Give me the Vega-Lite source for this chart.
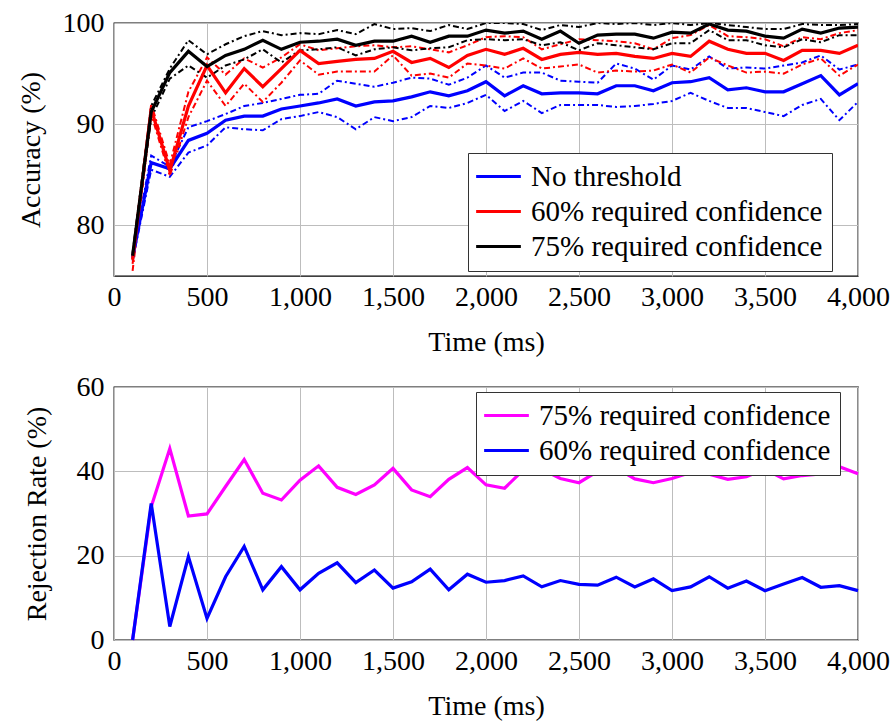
{
"$schema": "https://vega.github.io/schema/vega-lite/v6.json",
"background": "white",
"padding": {"left": 16, "top": 8, "right": 4, "bottom": 2},
"bounds": "flush",
"spacing": 111,
"config": {
  "font": "Liberation Serif",
  "style": {"guide-label": {"font": "Liberation Serif"}, "guide-title": {"font": "Liberation Serif"}},
  "view": {"stroke": "#000", "strokeWidth": 1.3},
  "axis": {"labelFont": "Liberation Serif", "titleFont": "Liberation Serif", "labelFontSize": 28, "titleFontSize": 28, "titleFontWeight": "normal", "labelColor": "#000", "titleColor": "#000", "gridColor": "#bdbdbd", "gridWidth": 1, "gridOpacity": 1, "domain": false, "ticks": false},
  "axisX": {"labelPadding": 7, "titlePadding": 17, "labelFlush": false},
  "axisY": {"labelPadding": 10},
  "legend": {"labelFont": "Liberation Serif", "labelFontSize": 29, "labelColor": "#000", "symbolType": "M-2,0L2,0", "symbolSize": 500, "symbolStrokeWidth": 3.2, "symbolDash": [], "symbolFillColor": "transparent", "strokeColor": "#333", "fillColor": "#fff", "padding": 9, "symbolOffset": 7, "labelOffset": 18, "rowPadding": 5, "labelLimit": 0, "orient": "none", "direction": "vertical", "title": null}
},
"resolve": {"scale": {"color": "independent", "x": "independent", "y": "independent"}, "legend": {"color": "independent"}},
"datasets": {
"acc": [
{"t":100,"s":"No threshold","k":"mean","v":76.8},{"t":200,"s":"No threshold","k":"mean","v":86.2},{"t":300,"s":"No threshold","k":"mean","v":85.6},{"t":400,"s":"No threshold","k":"mean","v":88.4},{"t":500,"s":"No threshold","k":"mean","v":89.1},{"t":600,"s":"No threshold","k":"mean","v":90.4},{"t":700,"s":"No threshold","k":"mean","v":90.8},{"t":800,"s":"No threshold","k":"mean","v":90.8},{"t":900,"s":"No threshold","k":"mean","v":91.5},{"t":1000,"s":"No threshold","k":"mean","v":91.8},
{"t":1100,"s":"No threshold","k":"mean","v":92.1},{"t":1200,"s":"No threshold","k":"mean","v":92.5},{"t":1300,"s":"No threshold","k":"mean","v":91.8},{"t":1400,"s":"No threshold","k":"mean","v":92.2},{"t":1500,"s":"No threshold","k":"mean","v":92.3},{"t":1600,"s":"No threshold","k":"mean","v":92.7},{"t":1700,"s":"No threshold","k":"mean","v":93.2},{"t":1800,"s":"No threshold","k":"mean","v":92.8},{"t":1900,"s":"No threshold","k":"mean","v":93.3},{"t":2000,"s":"No threshold","k":"mean","v":94.2},
{"t":2100,"s":"No threshold","k":"mean","v":92.8},{"t":2200,"s":"No threshold","k":"mean","v":93.8},{"t":2300,"s":"No threshold","k":"mean","v":93.0},{"t":2400,"s":"No threshold","k":"mean","v":93.1},{"t":2500,"s":"No threshold","k":"mean","v":93.1},{"t":2600,"s":"No threshold","k":"mean","v":93.0},{"t":2700,"s":"No threshold","k":"mean","v":93.8},{"t":2800,"s":"No threshold","k":"mean","v":93.8},{"t":2900,"s":"No threshold","k":"mean","v":93.3},{"t":3000,"s":"No threshold","k":"mean","v":94.1},
{"t":3100,"s":"No threshold","k":"mean","v":94.2},{"t":3200,"s":"No threshold","k":"mean","v":94.6},{"t":3300,"s":"No threshold","k":"mean","v":93.4},{"t":3400,"s":"No threshold","k":"mean","v":93.6},{"t":3500,"s":"No threshold","k":"mean","v":93.2},{"t":3600,"s":"No threshold","k":"mean","v":93.2},{"t":3700,"s":"No threshold","k":"mean","v":94.0},{"t":3800,"s":"No threshold","k":"mean","v":94.8},{"t":3900,"s":"No threshold","k":"mean","v":92.9},{"t":4000,"s":"No threshold","k":"mean","v":94.0},
{"t":100,"s":"No threshold","k":"upper","v":77.2},{"t":200,"s":"No threshold","k":"upper","v":86.9},{"t":300,"s":"No threshold","k":"upper","v":85.8},{"t":400,"s":"No threshold","k":"upper","v":89.7},{"t":500,"s":"No threshold","k":"upper","v":90.3},{"t":600,"s":"No threshold","k":"upper","v":91.0},{"t":700,"s":"No threshold","k":"upper","v":91.8},{"t":800,"s":"No threshold","k":"upper","v":92.1},{"t":900,"s":"No threshold","k":"upper","v":92.5},{"t":1000,"s":"No threshold","k":"upper","v":92.9},
{"t":1100,"s":"No threshold","k":"upper","v":93.0},{"t":1200,"s":"No threshold","k":"upper","v":94.3},{"t":1300,"s":"No threshold","k":"upper","v":94.0},{"t":1400,"s":"No threshold","k":"upper","v":93.7},{"t":1500,"s":"No threshold","k":"upper","v":94.1},{"t":1600,"s":"No threshold","k":"upper","v":94.6},{"t":1700,"s":"No threshold","k":"upper","v":94.5},{"t":1800,"s":"No threshold","k":"upper","v":93.9},{"t":1900,"s":"No threshold","k":"upper","v":94.6},{"t":2000,"s":"No threshold","k":"upper","v":95.8},
{"t":2100,"s":"No threshold","k":"upper","v":94.6},{"t":2200,"s":"No threshold","k":"upper","v":95.1},{"t":2300,"s":"No threshold","k":"upper","v":95.1},{"t":2400,"s":"No threshold","k":"upper","v":94.3},{"t":2500,"s":"No threshold","k":"upper","v":94.2},{"t":2600,"s":"No threshold","k":"upper","v":94.1},{"t":2700,"s":"No threshold","k":"upper","v":96.0},{"t":2800,"s":"No threshold","k":"upper","v":95.5},{"t":2900,"s":"No threshold","k":"upper","v":94.4},{"t":3000,"s":"No threshold","k":"upper","v":95.8},
{"t":3100,"s":"No threshold","k":"upper","v":95.4},{"t":3200,"s":"No threshold","k":"upper","v":96.7},{"t":3300,"s":"No threshold","k":"upper","v":95.5},{"t":3400,"s":"No threshold","k":"upper","v":95.6},{"t":3500,"s":"No threshold","k":"upper","v":95.5},{"t":3600,"s":"No threshold","k":"upper","v":95.8},{"t":3700,"s":"No threshold","k":"upper","v":96.1},{"t":3800,"s":"No threshold","k":"upper","v":96.8},{"t":3900,"s":"No threshold","k":"upper","v":95.4},{"t":4000,"s":"No threshold","k":"upper","v":95.9},
{"t":100,"s":"No threshold","k":"lower","v":76.5},{"t":200,"s":"No threshold","k":"lower","v":85.5},{"t":300,"s":"No threshold","k":"lower","v":84.8},{"t":400,"s":"No threshold","k":"lower","v":87.2},{"t":500,"s":"No threshold","k":"lower","v":87.9},{"t":600,"s":"No threshold","k":"lower","v":89.7},{"t":700,"s":"No threshold","k":"lower","v":89.5},{"t":800,"s":"No threshold","k":"lower","v":89.4},{"t":900,"s":"No threshold","k":"lower","v":90.5},{"t":1000,"s":"No threshold","k":"lower","v":90.8},
{"t":1100,"s":"No threshold","k":"lower","v":91.2},{"t":1200,"s":"No threshold","k":"lower","v":90.7},{"t":1300,"s":"No threshold","k":"lower","v":89.5},{"t":1400,"s":"No threshold","k":"lower","v":90.7},{"t":1500,"s":"No threshold","k":"lower","v":90.3},{"t":1600,"s":"No threshold","k":"lower","v":90.7},{"t":1700,"s":"No threshold","k":"lower","v":91.8},{"t":1800,"s":"No threshold","k":"lower","v":91.6},{"t":1900,"s":"No threshold","k":"lower","v":92.1},{"t":2000,"s":"No threshold","k":"lower","v":92.9},
{"t":2100,"s":"No threshold","k":"lower","v":91.3},{"t":2200,"s":"No threshold","k":"lower","v":92.3},{"t":2300,"s":"No threshold","k":"lower","v":91.1},{"t":2400,"s":"No threshold","k":"lower","v":91.9},{"t":2500,"s":"No threshold","k":"lower","v":91.9},{"t":2600,"s":"No threshold","k":"lower","v":91.9},{"t":2700,"s":"No threshold","k":"lower","v":91.7},{"t":2800,"s":"No threshold","k":"lower","v":91.8},{"t":2900,"s":"No threshold","k":"lower","v":92.0},{"t":3000,"s":"No threshold","k":"lower","v":92.3},
{"t":3100,"s":"No threshold","k":"lower","v":93.1},{"t":3200,"s":"No threshold","k":"lower","v":92.3},{"t":3300,"s":"No threshold","k":"lower","v":91.6},{"t":3400,"s":"No threshold","k":"lower","v":91.6},{"t":3500,"s":"No threshold","k":"lower","v":91.2},{"t":3600,"s":"No threshold","k":"lower","v":90.8},{"t":3700,"s":"No threshold","k":"lower","v":91.9},{"t":3800,"s":"No threshold","k":"lower","v":92.5},{"t":3900,"s":"No threshold","k":"lower","v":90.4},{"t":4000,"s":"No threshold","k":"lower","v":92.2},
{"t":100,"s":"60% required confidence","k":"mean","v":76.6},{"t":200,"s":"60% required confidence","k":"mean","v":91.5},{"t":300,"s":"60% required confidence","k":"mean","v":85.4},{"t":400,"s":"60% required confidence","k":"mean","v":91.8},{"t":500,"s":"60% required confidence","k":"mean","v":95.8},{"t":600,"s":"60% required confidence","k":"mean","v":93.1},{"t":700,"s":"60% required confidence","k":"mean","v":95.5},{"t":800,"s":"60% required confidence","k":"mean","v":93.7},{"t":900,"s":"60% required confidence","k":"mean","v":95.5},{"t":1000,"s":"60% required confidence","k":"mean","v":97.3},
{"t":1100,"s":"60% required confidence","k":"mean","v":96.0},{"t":1200,"s":"60% required confidence","k":"mean","v":96.2},{"t":1300,"s":"60% required confidence","k":"mean","v":96.4},{"t":1400,"s":"60% required confidence","k":"mean","v":96.5},{"t":1500,"s":"60% required confidence","k":"mean","v":97.2},{"t":1600,"s":"60% required confidence","k":"mean","v":96.1},{"t":1700,"s":"60% required confidence","k":"mean","v":96.5},{"t":1800,"s":"60% required confidence","k":"mean","v":95.6},{"t":1900,"s":"60% required confidence","k":"mean","v":96.8},{"t":2000,"s":"60% required confidence","k":"mean","v":97.4},
{"t":2100,"s":"60% required confidence","k":"mean","v":96.9},{"t":2200,"s":"60% required confidence","k":"mean","v":97.5},{"t":2300,"s":"60% required confidence","k":"mean","v":96.4},{"t":2400,"s":"60% required confidence","k":"mean","v":96.9},{"t":2500,"s":"60% required confidence","k":"mean","v":97.1},{"t":2600,"s":"60% required confidence","k":"mean","v":96.9},{"t":2700,"s":"60% required confidence","k":"mean","v":97.0},{"t":2800,"s":"60% required confidence","k":"mean","v":96.7},{"t":2900,"s":"60% required confidence","k":"mean","v":96.5},{"t":3000,"s":"60% required confidence","k":"mean","v":97.0},
{"t":3100,"s":"60% required confidence","k":"mean","v":96.7},{"t":3200,"s":"60% required confidence","k":"mean","v":98.2},{"t":3300,"s":"60% required confidence","k":"mean","v":97.4},{"t":3400,"s":"60% required confidence","k":"mean","v":97.0},{"t":3500,"s":"60% required confidence","k":"mean","v":97.0},{"t":3600,"s":"60% required confidence","k":"mean","v":96.3},{"t":3700,"s":"60% required confidence","k":"mean","v":97.3},{"t":3800,"s":"60% required confidence","k":"mean","v":97.3},{"t":3900,"s":"60% required confidence","k":"mean","v":97.0},{"t":4000,"s":"60% required confidence","k":"mean","v":97.8},
{"t":100,"s":"60% required confidence","k":"upper","v":76.2},{"t":200,"s":"60% required confidence","k":"upper","v":92.0},{"t":300,"s":"60% required confidence","k":"upper","v":86.0},{"t":400,"s":"60% required confidence","k":"upper","v":93.2},{"t":500,"s":"60% required confidence","k":"upper","v":96.6},{"t":600,"s":"60% required confidence","k":"upper","v":94.9},{"t":700,"s":"60% required confidence","k":"upper","v":96.5},{"t":800,"s":"60% required confidence","k":"upper","v":95.6},{"t":900,"s":"60% required confidence","k":"upper","v":96.6},{"t":1000,"s":"60% required confidence","k":"upper","v":97.9},
{"t":1100,"s":"60% required confidence","k":"upper","v":97.3},{"t":1200,"s":"60% required confidence","k":"upper","v":97.5},{"t":1300,"s":"60% required confidence","k":"upper","v":97.7},{"t":1400,"s":"60% required confidence","k":"upper","v":97.8},{"t":1500,"s":"60% required confidence","k":"upper","v":97.6},{"t":1600,"s":"60% required confidence","k":"upper","v":97.7},{"t":1700,"s":"60% required confidence","k":"upper","v":97.4},{"t":1800,"s":"60% required confidence","k":"upper","v":97.1},{"t":1900,"s":"60% required confidence","k":"upper","v":97.8},{"t":2000,"s":"60% required confidence","k":"upper","v":98.6},
{"t":2100,"s":"60% required confidence","k":"upper","v":98.7},{"t":2200,"s":"60% required confidence","k":"upper","v":98.6},{"t":2300,"s":"60% required confidence","k":"upper","v":97.4},{"t":2400,"s":"60% required confidence","k":"upper","v":97.9},{"t":2500,"s":"60% required confidence","k":"upper","v":98.4},{"t":2600,"s":"60% required confidence","k":"upper","v":98.3},{"t":2700,"s":"60% required confidence","k":"upper","v":98.2},{"t":2800,"s":"60% required confidence","k":"upper","v":98.0},{"t":2900,"s":"60% required confidence","k":"upper","v":97.4},{"t":3000,"s":"60% required confidence","k":"upper","v":98.5},
{"t":3100,"s":"60% required confidence","k":"upper","v":98.8},{"t":3200,"s":"60% required confidence","k":"upper","v":99.8},{"t":3300,"s":"60% required confidence","k":"upper","v":98.7},{"t":3400,"s":"60% required confidence","k":"upper","v":98.6},{"t":3500,"s":"60% required confidence","k":"upper","v":98.4},{"t":3600,"s":"60% required confidence","k":"upper","v":97.7},{"t":3700,"s":"60% required confidence","k":"upper","v":98.6},{"t":3800,"s":"60% required confidence","k":"upper","v":98.4},{"t":3900,"s":"60% required confidence","k":"upper","v":99.0},{"t":4000,"s":"60% required confidence","k":"upper","v":99.3},
{"t":100,"s":"60% required confidence","k":"lower","v":75.5},{"t":200,"s":"60% required confidence","k":"lower","v":91.0},{"t":300,"s":"60% required confidence","k":"lower","v":84.9},{"t":400,"s":"60% required confidence","k":"lower","v":90.7},{"t":500,"s":"60% required confidence","k":"lower","v":94.3},{"t":600,"s":"60% required confidence","k":"lower","v":91.8},{"t":700,"s":"60% required confidence","k":"lower","v":94.0},{"t":800,"s":"60% required confidence","k":"lower","v":92.2},{"t":900,"s":"60% required confidence","k":"lower","v":94.1},{"t":1000,"s":"60% required confidence","k":"lower","v":96.3},
{"t":1100,"s":"60% required confidence","k":"lower","v":94.9},{"t":1200,"s":"60% required confidence","k":"lower","v":95.2},{"t":1300,"s":"60% required confidence","k":"lower","v":95.2},{"t":1400,"s":"60% required confidence","k":"lower","v":95.2},{"t":1500,"s":"60% required confidence","k":"lower","v":96.8},{"t":1600,"s":"60% required confidence","k":"lower","v":94.8},{"t":1700,"s":"60% required confidence","k":"lower","v":95.0},{"t":1800,"s":"60% required confidence","k":"lower","v":94.6},{"t":1900,"s":"60% required confidence","k":"lower","v":96.0},{"t":2000,"s":"60% required confidence","k":"lower","v":95.8},
{"t":2100,"s":"60% required confidence","k":"lower","v":95.5},{"t":2200,"s":"60% required confidence","k":"lower","v":96.5},{"t":2300,"s":"60% required confidence","k":"lower","v":95.5},{"t":2400,"s":"60% required confidence","k":"lower","v":95.7},{"t":2500,"s":"60% required confidence","k":"lower","v":95.9},{"t":2600,"s":"60% required confidence","k":"lower","v":95.1},{"t":2700,"s":"60% required confidence","k":"lower","v":95.3},{"t":2800,"s":"60% required confidence","k":"lower","v":95.2},{"t":2900,"s":"60% required confidence","k":"lower","v":95.3},{"t":3000,"s":"60% required confidence","k":"lower","v":95.9},
{"t":3100,"s":"60% required confidence","k":"lower","v":95.1},{"t":3200,"s":"60% required confidence","k":"lower","v":96.6},{"t":3300,"s":"60% required confidence","k":"lower","v":95.8},{"t":3400,"s":"60% required confidence","k":"lower","v":95.1},{"t":3500,"s":"60% required confidence","k":"lower","v":95.2},{"t":3600,"s":"60% required confidence","k":"lower","v":95.0},{"t":3700,"s":"60% required confidence","k":"lower","v":95.9},{"t":3800,"s":"60% required confidence","k":"lower","v":96.5},{"t":3900,"s":"60% required confidence","k":"lower","v":94.8},{"t":4000,"s":"60% required confidence","k":"lower","v":95.9},
{"t":100,"s":"75% required confidence","k":"mean","v":77.0},{"t":200,"s":"75% required confidence","k":"mean","v":91.2},{"t":300,"s":"75% required confidence","k":"mean","v":95.1},{"t":400,"s":"75% required confidence","k":"mean","v":97.2},{"t":500,"s":"75% required confidence","k":"mean","v":95.7},{"t":600,"s":"75% required confidence","k":"mean","v":96.8},{"t":700,"s":"75% required confidence","k":"mean","v":97.4},{"t":800,"s":"75% required confidence","k":"mean","v":98.3},{"t":900,"s":"75% required confidence","k":"mean","v":97.4},{"t":1000,"s":"75% required confidence","k":"mean","v":98.1},
{"t":1100,"s":"75% required confidence","k":"mean","v":98.2},{"t":1200,"s":"75% required confidence","k":"mean","v":98.4},{"t":1300,"s":"75% required confidence","k":"mean","v":97.8},{"t":1400,"s":"75% required confidence","k":"mean","v":98.2},{"t":1500,"s":"75% required confidence","k":"mean","v":98.2},{"t":1600,"s":"75% required confidence","k":"mean","v":98.7},{"t":1700,"s":"75% required confidence","k":"mean","v":98.1},{"t":1800,"s":"75% required confidence","k":"mean","v":98.7},{"t":1900,"s":"75% required confidence","k":"mean","v":98.7},{"t":2000,"s":"75% required confidence","k":"mean","v":99.3},
{"t":2100,"s":"75% required confidence","k":"mean","v":99.0},{"t":2200,"s":"75% required confidence","k":"mean","v":99.2},{"t":2300,"s":"75% required confidence","k":"mean","v":98.4},{"t":2400,"s":"75% required confidence","k":"mean","v":99.2},{"t":2500,"s":"75% required confidence","k":"mean","v":98.0},{"t":2600,"s":"75% required confidence","k":"mean","v":98.8},{"t":2700,"s":"75% required confidence","k":"mean","v":98.9},{"t":2800,"s":"75% required confidence","k":"mean","v":98.9},{"t":2900,"s":"75% required confidence","k":"mean","v":98.5},{"t":3000,"s":"75% required confidence","k":"mean","v":99.1},
{"t":3100,"s":"75% required confidence","k":"mean","v":99.0},{"t":3200,"s":"75% required confidence","k":"mean","v":99.9},{"t":3300,"s":"75% required confidence","k":"mean","v":99.3},{"t":3400,"s":"75% required confidence","k":"mean","v":99.2},{"t":3500,"s":"75% required confidence","k":"mean","v":98.7},{"t":3600,"s":"75% required confidence","k":"mean","v":98.5},{"t":3700,"s":"75% required confidence","k":"mean","v":99.4},{"t":3800,"s":"75% required confidence","k":"mean","v":99.0},{"t":3900,"s":"75% required confidence","k":"mean","v":99.5},{"t":4000,"s":"75% required confidence","k":"mean","v":99.6},
{"t":100,"s":"75% required confidence","k":"upper","v":77.3},{"t":200,"s":"75% required confidence","k":"upper","v":91.8},{"t":300,"s":"75% required confidence","k":"upper","v":95.5},{"t":400,"s":"75% required confidence","k":"upper","v":98.3},{"t":500,"s":"75% required confidence","k":"upper","v":96.9},{"t":600,"s":"75% required confidence","k":"upper","v":97.9},{"t":700,"s":"75% required confidence","k":"upper","v":98.7},{"t":800,"s":"75% required confidence","k":"upper","v":99.2},{"t":900,"s":"75% required confidence","k":"upper","v":98.8},{"t":1000,"s":"75% required confidence","k":"upper","v":99.0},
{"t":1100,"s":"75% required confidence","k":"upper","v":98.9},{"t":1200,"s":"75% required confidence","k":"upper","v":99.3},{"t":1300,"s":"75% required confidence","k":"upper","v":98.9},{"t":1400,"s":"75% required confidence","k":"upper","v":99.9},{"t":1500,"s":"75% required confidence","k":"upper","v":99.4},{"t":1600,"s":"75% required confidence","k":"upper","v":99.5},{"t":1700,"s":"75% required confidence","k":"upper","v":99.2},{"t":1800,"s":"75% required confidence","k":"upper","v":99.8},{"t":1900,"s":"75% required confidence","k":"upper","v":99.4},{"t":2000,"s":"75% required confidence","k":"upper","v":100.0},
{"t":2100,"s":"75% required confidence","k":"upper","v":100.0},{"t":2200,"s":"75% required confidence","k":"upper","v":99.9},{"t":2300,"s":"75% required confidence","k":"upper","v":99.3},{"t":2400,"s":"75% required confidence","k":"upper","v":99.8},{"t":2500,"s":"75% required confidence","k":"upper","v":99.6},{"t":2600,"s":"75% required confidence","k":"upper","v":100.0},{"t":2700,"s":"75% required confidence","k":"upper","v":99.9},{"t":2800,"s":"75% required confidence","k":"upper","v":100.0},{"t":2900,"s":"75% required confidence","k":"upper","v":99.8},{"t":3000,"s":"75% required confidence","k":"upper","v":100.0},
{"t":3100,"s":"75% required confidence","k":"upper","v":99.8},{"t":3200,"s":"75% required confidence","k":"upper","v":100.0},{"t":3300,"s":"75% required confidence","k":"upper","v":99.8},{"t":3400,"s":"75% required confidence","k":"upper","v":99.6},{"t":3500,"s":"75% required confidence","k":"upper","v":99.4},{"t":3600,"s":"75% required confidence","k":"upper","v":99.4},{"t":3700,"s":"75% required confidence","k":"upper","v":99.9},{"t":3800,"s":"75% required confidence","k":"upper","v":99.8},{"t":3900,"s":"75% required confidence","k":"upper","v":99.8},{"t":4000,"s":"75% required confidence","k":"upper","v":99.9},
{"t":100,"s":"75% required confidence","k":"lower","v":76.7},{"t":200,"s":"75% required confidence","k":"lower","v":90.6},{"t":300,"s":"75% required confidence","k":"lower","v":94.5},{"t":400,"s":"75% required confidence","k":"lower","v":95.8},{"t":500,"s":"75% required confidence","k":"lower","v":94.6},{"t":600,"s":"75% required confidence","k":"lower","v":95.8},{"t":700,"s":"75% required confidence","k":"lower","v":96.4},{"t":800,"s":"75% required confidence","k":"lower","v":97.4},{"t":900,"s":"75% required confidence","k":"lower","v":96.1},{"t":1000,"s":"75% required confidence","k":"lower","v":97.3},
{"t":1100,"s":"75% required confidence","k":"lower","v":97.4},{"t":1200,"s":"75% required confidence","k":"lower","v":97.6},{"t":1300,"s":"75% required confidence","k":"lower","v":96.8},{"t":1400,"s":"75% required confidence","k":"lower","v":97.4},{"t":1500,"s":"75% required confidence","k":"lower","v":97.6},{"t":1600,"s":"75% required confidence","k":"lower","v":97.3},{"t":1700,"s":"75% required confidence","k":"lower","v":97.5},{"t":1800,"s":"75% required confidence","k":"lower","v":97.6},{"t":1900,"s":"75% required confidence","k":"lower","v":98.3},{"t":2000,"s":"75% required confidence","k":"lower","v":98.4},
{"t":2100,"s":"75% required confidence","k":"lower","v":98.3},{"t":2200,"s":"75% required confidence","k":"lower","v":98.4},{"t":2300,"s":"75% required confidence","k":"lower","v":97.8},{"t":2400,"s":"75% required confidence","k":"lower","v":98.1},{"t":2500,"s":"75% required confidence","k":"lower","v":97.3},{"t":2600,"s":"75% required confidence","k":"lower","v":98.0},{"t":2700,"s":"75% required confidence","k":"lower","v":97.8},{"t":2800,"s":"75% required confidence","k":"lower","v":97.6},{"t":2900,"s":"75% required confidence","k":"lower","v":97.4},{"t":3000,"s":"75% required confidence","k":"lower","v":98.0},
{"t":3100,"s":"75% required confidence","k":"lower","v":98.0},{"t":3200,"s":"75% required confidence","k":"lower","v":99.3},{"t":3300,"s":"75% required confidence","k":"lower","v":98.3},{"t":3400,"s":"75% required confidence","k":"lower","v":98.3},{"t":3500,"s":"75% required confidence","k":"lower","v":97.8},{"t":3600,"s":"75% required confidence","k":"lower","v":97.6},{"t":3700,"s":"75% required confidence","k":"lower","v":98.4},{"t":3800,"s":"75% required confidence","k":"lower","v":98.1},{"t":3900,"s":"75% required confidence","k":"lower","v":98.8},{"t":4000,"s":"75% required confidence","k":"lower","v":98.8}
],
"rej": [
{"t":100,"s":"75% required confidence","v":0},{"t":200,"s":"75% required confidence","v":31.6},{"t":300,"s":"75% required confidence","v":45.4},{"t":400,"s":"75% required confidence","v":29.4},{"t":500,"s":"75% required confidence","v":29.9},{"t":600,"s":"75% required confidence","v":36.4},{"t":700,"s":"75% required confidence","v":42.8},{"t":800,"s":"75% required confidence","v":34.8},{"t":900,"s":"75% required confidence","v":33.2},{"t":1000,"s":"75% required confidence","v":37.9},
{"t":1100,"s":"75% required confidence","v":41.3},{"t":1200,"s":"75% required confidence","v":36.2},{"t":1300,"s":"75% required confidence","v":34.5},{"t":1400,"s":"75% required confidence","v":36.8},{"t":1500,"s":"75% required confidence","v":40.7},{"t":1600,"s":"75% required confidence","v":35.6},{"t":1700,"s":"75% required confidence","v":34.0},{"t":1800,"s":"75% required confidence","v":38.1},{"t":1900,"s":"75% required confidence","v":40.9},{"t":2000,"s":"75% required confidence","v":36.8},
{"t":2100,"s":"75% required confidence","v":36.0},{"t":2200,"s":"75% required confidence","v":40.3},{"t":2300,"s":"75% required confidence","v":40.5},{"t":2400,"s":"75% required confidence","v":38.3},{"t":2500,"s":"75% required confidence","v":37.3},{"t":2600,"s":"75% required confidence","v":40.0},{"t":2700,"s":"75% required confidence","v":40.8},{"t":2800,"s":"75% required confidence","v":38.2},{"t":2900,"s":"75% required confidence","v":37.3},{"t":3000,"s":"75% required confidence","v":38.3},
{"t":3100,"s":"75% required confidence","v":39.7},{"t":3200,"s":"75% required confidence","v":39.3},{"t":3300,"s":"75% required confidence","v":38.1},{"t":3400,"s":"75% required confidence","v":38.7},{"t":3500,"s":"75% required confidence","v":40.5},{"t":3600,"s":"75% required confidence","v":38.2},{"t":3700,"s":"75% required confidence","v":39.0},{"t":3800,"s":"75% required confidence","v":39.4},{"t":3900,"s":"75% required confidence","v":41.1},{"t":4000,"s":"75% required confidence","v":39.4},
{"t":100,"s":"60% required confidence","v":0},{"t":200,"s":"60% required confidence","v":32.4},{"t":300,"s":"60% required confidence","v":3.2},{"t":400,"s":"60% required confidence","v":19.8},{"t":500,"s":"60% required confidence","v":5.1},{"t":600,"s":"60% required confidence","v":15.0},{"t":700,"s":"60% required confidence","v":22.2},{"t":800,"s":"60% required confidence","v":11.9},{"t":900,"s":"60% required confidence","v":17.4},{"t":1000,"s":"60% required confidence","v":11.9},
{"t":1100,"s":"60% required confidence","v":15.8},{"t":1200,"s":"60% required confidence","v":18.3},{"t":1300,"s":"60% required confidence","v":13.6},{"t":1400,"s":"60% required confidence","v":16.6},{"t":1500,"s":"60% required confidence","v":12.3},{"t":1600,"s":"60% required confidence","v":13.8},{"t":1700,"s":"60% required confidence","v":16.8},{"t":1800,"s":"60% required confidence","v":11.9},{"t":1900,"s":"60% required confidence","v":15.6},{"t":2000,"s":"60% required confidence","v":13.7},
{"t":2100,"s":"60% required confidence","v":14.1},{"t":2200,"s":"60% required confidence","v":15.2},{"t":2300,"s":"60% required confidence","v":12.6},{"t":2400,"s":"60% required confidence","v":14.1},{"t":2500,"s":"60% required confidence","v":13.2},{"t":2600,"s":"60% required confidence","v":13.0},{"t":2700,"s":"60% required confidence","v":14.9},{"t":2800,"s":"60% required confidence","v":12.6},{"t":2900,"s":"60% required confidence","v":14.5},{"t":3000,"s":"60% required confidence","v":11.7},
{"t":3100,"s":"60% required confidence","v":12.6},{"t":3200,"s":"60% required confidence","v":15.0},{"t":3300,"s":"60% required confidence","v":12.3},{"t":3400,"s":"60% required confidence","v":14.0},{"t":3500,"s":"60% required confidence","v":11.7},{"t":3600,"s":"60% required confidence","v":13.3},{"t":3700,"s":"60% required confidence","v":14.8},{"t":3800,"s":"60% required confidence","v":12.5},{"t":3900,"s":"60% required confidence","v":12.9},{"t":4000,"s":"60% required confidence","v":11.7}
]
},
"vconcat": [
{
  "width": 744, "height": 253,
  "data": {"name": "acc"},
  "encoding": {
    "x": {"field": "t", "type": "quantitative", "scale": {"domain": [0, 4000], "nice": false}, "axis": {"values": [0,500,1000,1500,2000,2500,3000,3500,4000], "format": ",.0f", "title": "Time (ms)"}},
    "y": {"field": "v", "type": "quantitative", "scale": {"domain": [75, 100], "nice": false, "zero": false}, "axis": {"values": [80, 90, 100], "format": ".0f", "title": "Accuracy (%)", "titlePadding": 17}},
    "color": {"field": "s", "type": "nominal", "scale": {"domain": ["No threshold", "60% required confidence", "75% required confidence"], "range": ["#0000ff", "#ff0000", "#000000"]}, "legend": {"legendX": 354, "legendY": 130, "labelFont": "Liberation Serif", "labelFontSize": 29, "encode": {"labels": {"update": {"font": {"value": "Liberation Serif"}}}}}}
  },
  "layer": [
    {"transform": [{"filter": "datum.k != 'mean'"}], "mark": {"type": "line", "strokeWidth": 2, "strokeDash": [6, 3, 2, 3], "clip": true}, "encoding": {"detail": {"field": "k", "type": "nominal"}}},
    {"transform": [{"filter": "datum.k == 'mean'"}], "mark": {"type": "line", "strokeWidth": 3.2, "clip": true}}
  ]
},
{
  "width": 744, "height": 253,
  "data": {"name": "rej"},
  "mark": {"type": "line", "strokeWidth": 3.2},
  "encoding": {
    "x": {"field": "t", "type": "quantitative", "scale": {"domain": [0, 4000], "nice": false}, "axis": {"values": [0,500,1000,1500,2000,2500,3000,3500,4000], "format": ",.0f", "title": "Time (ms)"}},
    "y": {"field": "v", "type": "quantitative", "scale": {"domain": [0, 60], "nice": false}, "axis": {"values": [0, 20, 40, 60], "format": ".0f", "title": "Rejection Rate (%)", "titlePadding": 25}},
    "color": {"field": "s", "type": "nominal", "scale": {"domain": ["75% required confidence", "60% required confidence"], "range": ["#ff00ff", "#0000ff"]}, "legend": {"legendX": 362, "legendY": 5, "labelFont": "Liberation Serif", "labelFontSize": 29, "encode": {"labels": {"update": {"font": {"value": "Liberation Serif"}}}}}}
  }
}
]
}
